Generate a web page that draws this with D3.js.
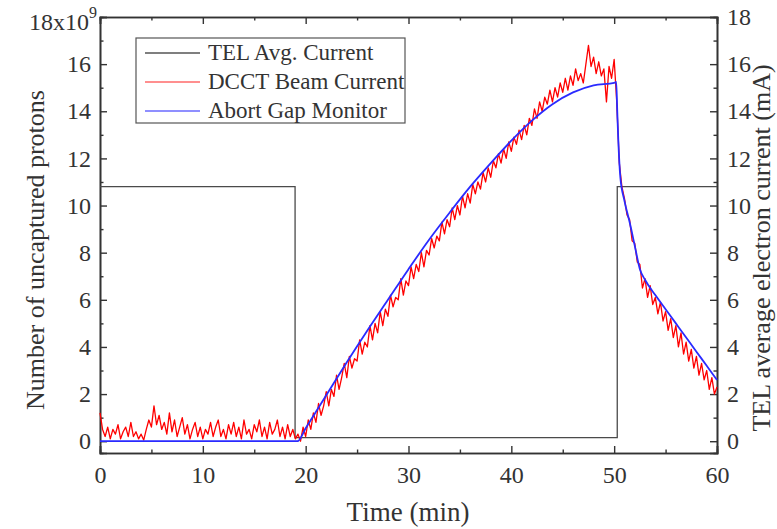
<!DOCTYPE html>
<html>
<head>
<meta charset="utf-8">
<script src="https://cdn.jsdelivr.net/npm/d3@7"></script>
<style>
  body { margin: 0; background: #fff; }
  svg text { font-family: "Liberation Serif", "Times New Roman", serif !important; fill: #333; }
</style>
</head>
<body>
<svg id="chart" width="777" height="529"></svg>
<script>
// ---- data ----
var xTicks = [0, 10, 20, 30, 40, 50, 60];
var yTicks = [0, 2, 4, 6, 8, 10, 12, 14, 16, 18];

// TEL average electron current (mA), step signal
var telTime  = [0, 18.97, 18.97, 50.3, 50.3, 60];
var telValue = [10.8, 10.8, 0.15, 0.15, 10.8, 10.8];

// Abort gap monitor (x1e9 protons)
var agmTime  = [0, 19.2, 20, 22, 24, 26, 28, 30, 32, 34, 36, 38, 40, 42, 44, 46, 48, 50, 50.2,
                50.3, 50.4, 50.6, 51, 51.5, 52, 52.5, 53, 54, 55, 56, 57, 58, 59, 60];
var agmValue = [0, 0, 0.55, 1.95, 3.35, 4.7, 6.0, 7.3, 8.55, 9.7, 10.8, 11.8, 12.75, 13.6, 14.3, 14.8, 15.1, 15.2, 15.25,
                14.0, 12.8, 11.2, 10.2, 9.3, 8.3, 7.3, 6.85, 6.2, 5.6, 5.0, 4.4, 3.8, 3.2, 2.6];

// DCCT beam current (x1e9 protons), one sample every 0.25 min from t = 0
var dcctStep = 0.25;
var dcctValue = [
  1.2, 0.5, 0.2, 0.6, 0.1, 0.5, 0.3, 0.7, 0.1, 0.4, 0.6, 0.2, 0.8, 0.2, 0.4, 0.1, 0.3, 0.05, 0.5, 0.9,
  0.6, 1.5, 0.7, 1.1, 0.5, 0.8, 0.3, 1.2, 0.4, 0.9, 0.2, 0.6, 1.0, 0.3, 0.7, 0.1, 0.5, 0.8, 0.2, 0.6,
  0.1, 0.5, 0.3, 0.8, 0.2, 0.6, 0.9, 0.2, 0.5, 0.1, 0.7, 0.3, 0.8, 0.2, 0.6, 0.1, 0.9, 0.3, 0.5, 0.1,
  0.7, 0.4, 0.9, 0.2, 0.6, 0.1, 0.8, 0.3, 0.5, 0.9, 0.2, 0.6, 0.1, 0.7, 0.2, 0.5, 0.1,
  0.3, 0.0, 0.6, 0.2, 0.9, 0.5, 1.2, 0.8, 1.6, 1.1, 1.5, 2.1, 1.5, 2.2, 1.9, 2.8, 2.2, 2.7, 3.3, 2.7,
  3.6, 3.1, 3.5, 3.4, 4.3, 3.7, 4.2, 4.0, 4.9, 4.3, 5.0, 4.6, 5.5, 4.9, 5.6, 5.3, 6.2, 5.7, 6.1, 6.0,
  6.9, 6.2, 6.8, 6.6, 7.4, 6.9, 7.5, 7.2, 8.0, 7.4, 8.1, 7.9, 8.6, 8.2, 8.7, 8.5, 9.3, 8.8, 9.4, 9.1,
  9.9, 9.4, 10.0, 9.6, 10.4, 9.9, 10.5, 10.1, 10.9, 10.5, 11.0, 10.7, 11.4, 11.0, 11.6, 11.2, 11.9, 11.6, 12.2, 11.8,
  12.4, 12.0, 12.7, 12.3, 12.9, 12.6, 13.2, 12.8, 13.4, 13.0, 13.7, 13.4, 14.1, 13.7, 14.4, 14.0, 14.6, 14.3, 14.9, 14.4,
  15.0, 14.6, 15.2, 14.8, 15.4, 14.9, 15.5, 15.1, 15.8, 15.3, 15.6, 15.2, 16.0, 16.8, 15.9, 16.3, 15.6, 16.1, 15.5, 15.8,
  14.4, 15.9, 15.4, 16.2,
  14.4, 11.8, 10.8, 10.3, 9.6, 9.4, 8.5, 8.4, 7.6, 7.5, 6.5, 6.9, 6.1, 6.6, 5.8, 6.1, 5.4, 5.9, 5.1, 5.5,
  4.7, 5.2, 4.4, 4.9, 4.0, 4.6, 3.7, 4.2, 3.4, 3.9, 3.1, 3.6, 2.8, 3.3, 2.6, 3.0, 2.2, 2.7, 2.0, 2.3
];

// ---- layout ----
var plotLeft = 100, plotRight = 717, plotTop = 17, plotBottom = 453;
var serif = "'Liberation Serif', 'Times New Roman', serif";
var svg = d3.select("#chart");

var x = d3.scaleLinear().domain([0, 60]).range([plotLeft, plotRight]);
var y = d3.scaleLinear().domain([-0.5, 18]).range([plotBottom, plotTop]);
var yR = d3.scaleLinear().domain([-0.5, 18]).range([plotBottom, plotTop]);

var minorX = d3.range(5, 60, 10);
var minorY = d3.range(1, 18, 2);

function styleAxis(g) {
    g.attr("font-family", null);
    g.selectAll("path").attr("stroke", "#333").attr("stroke-width", 1.6);
    g.selectAll("line").attr("stroke", "#333").attr("stroke-width", 1.4);
    g.selectAll("text").attr("font-size", "24px").attr("fill", "#333")
        .style("font-family", serif);
}

// minor ticks first
svg.append("g").attr("transform", "translate(0," + plotBottom + ")")
    .call(d3.axisBottom(x).tickValues(minorX).tickSize(-3.5).tickFormat(""))
    .call(styleAxis);
svg.append("g").attr("transform", "translate(0," + plotTop + ")")
    .call(d3.axisTop(x).tickValues(minorX).tickSize(-3.5).tickFormat(""))
    .call(styleAxis);
svg.append("g").attr("transform", "translate(" + plotLeft + ",0)")
    .call(d3.axisLeft(y).tickValues(minorY).tickSize(-3.5).tickFormat(""))
    .call(styleAxis);
svg.append("g").attr("transform", "translate(" + plotRight + ",0)")
    .call(d3.axisRight(yR).tickValues(minorY).tickSize(-3.5).tickFormat(""))
    .call(styleAxis);

// major ticks
svg.append("g").attr("transform", "translate(0," + plotBottom + ")")
    .call(d3.axisBottom(x).tickValues(xTicks).tickSize(-7).tickPadding(13).tickFormat(d3.format("d")))
    .call(styleAxis);
svg.append("g").attr("transform", "translate(0," + plotTop + ")")
    .call(d3.axisTop(x).tickValues(xTicks).tickSize(-7).tickFormat(""))
    .call(styleAxis);

var leftAxis = svg.append("g").attr("transform", "translate(" + plotLeft + ",0)")
    .call(d3.axisLeft(y).tickValues(yTicks).tickSize(-7).tickPadding(9).tickFormat(d3.format("d")))
    .call(styleAxis);
// top label carries the multiplier
var topLabel = leftAxis.selectAll(".tick text").filter(function (d) { return d === 18; });
topLabel.text(null).attr("x", -3).attr("dy", "0.5em");
topLabel.append("tspan").text("18x10");
topLabel.append("tspan").text("9").attr("font-size", "16px").attr("dy", "-0.75em");

svg.append("g").attr("transform", "translate(" + plotRight + ",0)")
    .call(d3.axisRight(yR).tickValues(yTicks).tickSize(-7).tickPadding(10).tickFormat(d3.format("d")))
    .call(styleAxis);

// ---- series ----
var telLine = d3.line()
    .x(function (d, i) { return x(telTime[i]); })
    .y(function (d) { return yR(d); });
svg.append("path").datum(telValue)
    .attr("d", telLine).attr("fill", "none")
    .attr("stroke", "#4a4a4a").attr("stroke-width", 1.3);

var dcctLine = d3.line()
    .x(function (d, i) { return x(i * dcctStep); })
    .y(function (d) { return y(d); });
svg.append("path").datum(dcctValue)
    .attr("d", dcctLine).attr("fill", "none")
    .attr("stroke", "#ff0000").attr("stroke-width", 1.3).attr("stroke-linejoin", "round");

var agmLine = d3.line()
    .x(function (d, i) { return x(agmTime[i]); })
    .y(function (d) { return y(d); })
    .curve(d3.curveMonotoneX);
svg.append("path").datum(agmValue)
    .attr("d", agmLine).attr("fill", "none")
    .attr("stroke", "#2a2aff").attr("stroke-width", 1.8);

// ---- legend ----
var legendNames = ["TEL Avg. Current", "DCCT Beam Current", "Abort Gap Monitor"];
var legendColors = ["#555", "#ff6a6a", "#6a6aff"];
var legend = svg.append("g");
legend.append("rect")
    .attr("x", 136).attr("y", 38).attr("width", 269).attr("height", 85)
    .attr("fill", "#fff").attr("stroke", "#555").attr("stroke-width", 1.2);
legendNames.forEach(function (name, i) {
    var ly = 53 + i * 29;
    legend.append("line")
        .attr("x1", 145).attr("x2", 200).attr("y1", ly).attr("y2", ly)
        .attr("stroke", legendColors[i]).attr("stroke-width", 1.4);
    legend.append("text")
        .attr("x", 208).attr("y", ly + 7)
        .attr("font-size", "23px")
        .style("font-family", serif)
        .text(name);
});

// ---- axis titles ----
svg.append("text")
    .attr("x", 408).attr("y", 521)
    .attr("text-anchor", "middle").attr("font-size", "27px")
    .style("font-family", serif)
    .text("Time (min)");
svg.append("text")
    .attr("transform", "translate(44,250) rotate(-90)")
    .attr("text-anchor", "middle").attr("font-size", "26px")
    .style("font-family", serif)
    .text("Number of uncaptured protons");
svg.append("text")
    .attr("transform", "translate(770,248) rotate(-90)")
    .attr("text-anchor", "middle").attr("font-size", "26px")
    .style("font-family", serif)
    .text("TEL average electron current (mA)");
</script>
</body>
</html>
